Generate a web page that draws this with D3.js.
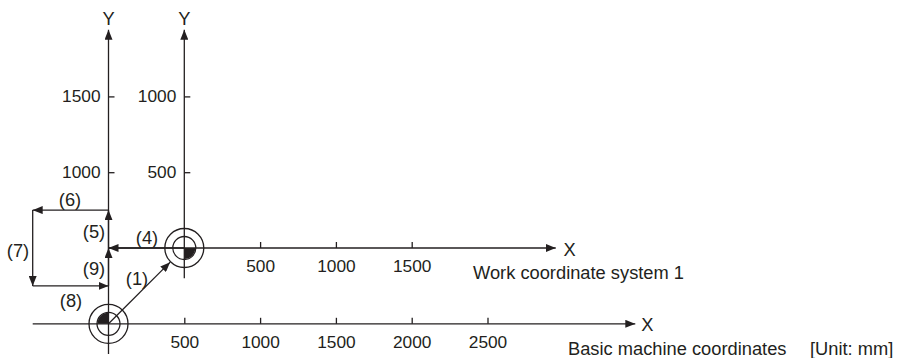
<!DOCTYPE html>
<html>
<head>
<meta charset="utf-8">
<script src="https://cdn.jsdelivr.net/npm/d3@7"></script>
<style>
  html, body { margin: 0; padding: 0; background: #fff; }
  svg text { font-family: "Liberation Sans", Arial, Helvetica, sans-serif; fill: #231f20; }
</style>
</head>
<body>
<svg id="chart" width="898" height="358"></svg>
<script>
// ---- data (mm, basic machine coordinates) ----
const basicXTicks = [500, 1000, 1500, 2000, 2500];
const basicYTicks = [1000, 1500];
const workXTicks = [500, 1000, 1500];
const workYTicks = [500, 1000];
const workOrigin = [500, 500];
// movement path (basic machine coordinates)
const pathPoints = [[500, 500], [0, 500], [0, 750], [-500, 750], [-500, 250], [0, 250], [0, 500]];
const pathLabels = ["(4)", "(5)", "(6)", "(7)", "(8)", "(9)"];
const moveLabel1 = "(1)";
const basicXExtent = [-500, 3475];
const basicYExtent = [-200, 1940];
const workXExtent = [-500, 2450];
const workYExtent = [-200, 1440];
const texts = {
  work: "Work coordinate system 1",
  basic: "Basic machine coordinates",
  unit: "[Unit: mm]"
};

const ink = "#231f20";
const svg = d3.select("#chart");

const x = d3.scaleLinear().domain([0, 500]).range([108.5, 184.3]);
const y = d3.scaleLinear().domain([0, 500]).range([323.8, 248.0]);

const defs = svg.append("defs");
defs.append("marker")
  .attr("id", "ah").attr("viewBox", "0 0 10 8")
  .attr("refX", 10).attr("refY", 4)
  .attr("markerWidth", 10).attr("markerHeight", 8)
  .attr("markerUnits", "userSpaceOnUse")
  .attr("orient", "auto")
  .append("path").attr("d", "M0,0 L10,4 L0,8 Z").attr("fill", ink);

const lw = 1.3;
const fsTick = 17.3;
const fsText = 18.3;

function line(x1, y1, x2, y2, arrow) {
  const l = svg.append("line")
    .attr("x1", x1).attr("y1", y1).attr("x2", x2).attr("y2", y2)
    .attr("stroke", ink).attr("stroke-width", lw);
  if (arrow) l.attr("marker-end", "url(#ah)");
  return l;
}

// ---- basic machine axes ----
line(x(basicXExtent[0]), y(0), x(basicXExtent[1]), y(0), true);
line(x(0), y(basicYExtent[0]), x(0), y(basicYExtent[1]), true);

// ---- work coordinate axes ----
const wx = v => x(workOrigin[0] + v);
const wy = v => y(workOrigin[1] + v);
line(wx(workXExtent[0]), wy(0), wx(workXExtent[1]), wy(0), true);
line(wx(0), wy(workYExtent[0]), wx(0), wy(workYExtent[1]), true);

// ---- ticks via d3 axes ----
function styleAxis(g) {
  g.attr("font-size", null).attr("font-family", null);
  g.select(".domain").remove();
  g.selectAll(".tick line").attr("stroke", ink).attr("stroke-width", lw);
  g.selectAll(".tick text").attr("fill", ink)
    .style("font-family", '"Liberation Sans", Arial, sans-serif')
    .style("font-size", fsTick + "px");
}
// basic X
const bxScale = d3.scaleLinear().domain(x.domain()).range(x.range());
svg.append("g").attr("transform", `translate(0,${y(0)})`)
  .call(d3.axisBottom(bxScale).tickValues(basicXTicks).tickSizeInner(-6).tickSizeOuter(0).tickPadding(12).tickFormat(d3.format("d")))
  .call(styleAxis);
// basic Y
svg.append("g").attr("transform", `translate(${x(0)},0)`)
  .call(d3.axisLeft(y).tickValues(basicYTicks).tickSizeInner(-6).tickSizeOuter(0).tickPadding(8).tickFormat(d3.format("d")))
  .call(styleAxis);
// work X
const wxScale = d3.scaleLinear().domain([0, 500]).range([wx(0), wx(500)]);
svg.append("g").attr("transform", `translate(0,${wy(0)})`)
  .call(d3.axisBottom(wxScale).tickValues(workXTicks).tickSizeInner(-6).tickSizeOuter(0).tickPadding(12).tickFormat(d3.format("d")))
  .call(styleAxis);
// work Y
const wyScale = d3.scaleLinear().domain([0, 500]).range([wy(0), wy(500)]);
svg.append("g").attr("transform", `translate(${wx(0)},0)`)
  .call(d3.axisLeft(wyScale).tickValues(workYTicks).tickSizeInner(-6).tickSizeOuter(0).tickPadding(8).tickFormat(d3.format("d")))
  .call(styleAxis);

// axis letters
function label(t, px, py, anchor, fs) {
  svg.append("text").attr("x", px).attr("y", py)
    .attr("text-anchor", anchor || "middle")
    .attr("dominant-baseline", "central")
    .style("font-size", (fs || fsText) + "px").text(t);
}
label("Y", x(0), 18);
label("Y", wx(0), 18);
label("X", x(basicXExtent[1]) + 12, y(0) + 1);
label("X", wx(workXExtent[1]) + 14, wy(0) + 1);
label(texts.work, 473, 272, "start");
label(texts.basic, 568, 348, "start");
label(texts.unit, 810, 348, "start");

// ---- origin symbols ----
function originMark(cx, cy, startAngle) {
  svg.append("circle").attr("cx", cx).attr("cy", cy).attr("r", 19.5)
    .attr("fill", "none").attr("stroke", ink).attr("stroke-width", lw);
  svg.append("circle").attr("cx", cx).attr("cy", cy).attr("r", 11.5)
    .attr("fill", "none").attr("stroke", ink).attr("stroke-width", lw);
  svg.append("path")
    .attr("transform", `translate(${cx},${cy})`)
    .attr("d", d3.arc()({ innerRadius: 0, outerRadius: 11, startAngle: startAngle, endAngle: startAngle + Math.PI / 2 }))
    .attr("fill", ink);
}
originMark(x(0), y(0), -Math.PI / 2);          // upper-left quadrant
originMark(wx(0), wy(0), Math.PI / 2);         // lower-right quadrant

// ---- movement (1): basic origin -> work origin outer ring ----
{
  const x0 = x(0), y0 = y(0), x1 = x(workOrigin[0]), y1 = y(workOrigin[1]);
  const dx = x1 - x0, dy = y1 - y0, len = Math.hypot(dx, dy);
  const k = (len - 20) / len;
  line(x0, y0, x0 + dx * k, y0 + dy * k, true);
  label(moveLabel1, 137, 278);
}

// ---- movements (4)..(9) ----
for (let i = 0; i < pathPoints.length - 1; i++) {
  const a = pathPoints[i], b = pathPoints[i + 1];
  line(x(a[0]), y(a[1]), x(b[0]), y(b[1]), true);
}
const labelPos = [[147, 237], [94, 231], [70, 199], [18, 250], [71, 300], [94, 268]];
pathLabels.forEach((t, i) => label(t, labelPos[i][0], labelPos[i][1]));
</script>
</body>
</html>
